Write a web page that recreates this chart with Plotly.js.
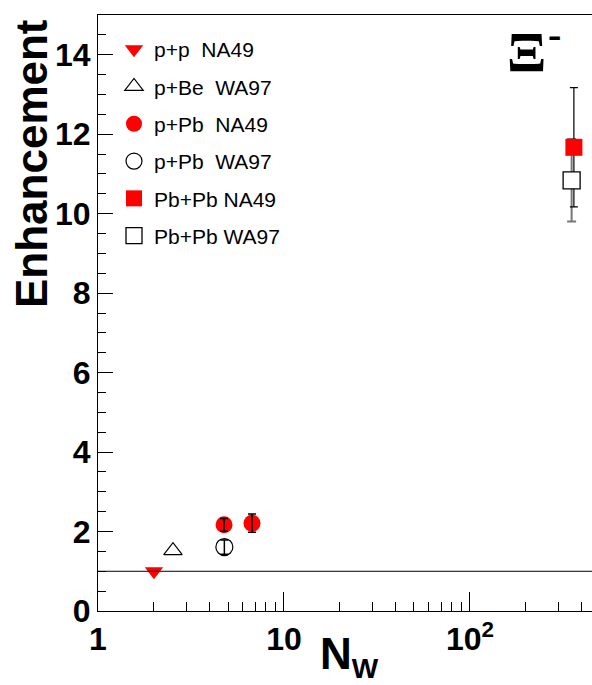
<!DOCTYPE html>
<html>
<head>
<meta charset="utf-8">
<script src="https://cdn.plot.ly/plotly-3.0.1.min.js"></script>
<style>html,body{margin:0;padding:0;background:#fff;overflow:hidden}</style>
</head>
<body>
<div id="plot" style="width:592px;height:685px"></div>
<script>
// Data
var ppNA49_x = [2.0];   var ppNA49_y = [1.0];
var pBeWA97_x = [2.53]; var pBeWA97_y = [1.52];
var pPbNA49_x = [4.76, 6.73]; var pPbNA49_y = [2.17, 2.21]; var pPbNA49_err = [0.16, 0.23];
var pPbWA97_x = [4.78]; var pPbWA97_y = [1.61]; var pPbWA97_err = [0.18];
var PbPbNA49_x = [362]; var PbPbNA49_y = [11.67]; var PbPbNA49_err = [1.5];
var PbPbWA97_x = [352]; var PbPbWA97_y = [10.84]; var PbPbWA97_err = [1.04];

var xMajorVals = [1, 10, 100];
var xMajorText = ['1', '10', '10<sup>2</sup>'];
var xMinorVals = [2,3,4,5,6,7,8,9,20,30,40,50,60,70,80,90,200,300,400];
var refLineY = 1;

var RED = '#ff0000';
var traces = [
  {x: ppNA49_x, y: ppNA49_y, name: 'p+p\u00a0\u00a0NA49', mode: 'markers', legendgroup: 'a',
   marker: {symbol: 'triangle-down', size: 16, color: RED}},
  {x: pBeWA97_x, y: pBeWA97_y, name: 'p+Be\u00a0\u00a0WA97', mode: 'markers', legendgroup: 'b',
   marker: {symbol: 'triangle-up-open', size: 16, color: '#000', line: {width: 1.2}}},
  {x: pPbNA49_x, y: pPbNA49_y, name: 'p+Pb\u00a0\u00a0NA49', mode: 'markers', legendgroup: 'c',
   marker: {symbol: 'circle', size: 17, color: RED}},
  {x: pPbNA49_x, y: pPbNA49_y, mode: 'markers', showlegend: false, hoverinfo: 'skip',
   marker: {size: 1, color: 'rgba(0,0,0,0)'},
   error_y: {type: 'data', array: pPbNA49_err, color: '#000', thickness: 1.5, width: 4}},
  {x: pPbWA97_x, y: pPbWA97_y, name: 'p+Pb\u00a0\u00a0WA97', mode: 'markers', legendgroup: 'd',
   marker: {symbol: 'circle-open', size: 17, color: '#000', line: {width: 1.2}},
   error_y: {type: 'data', array: pPbWA97_err, color: '#000', thickness: 1.5, width: 4}},
  {x: PbPbWA97_x, y: PbPbWA97_y, mode: 'markers', showlegend: false, hoverinfo: 'skip',
   marker: {size: 1, color: 'rgba(0,0,0,0)'},
   error_y: {type: 'data', array: PbPbWA97_err, color: '#777', thickness: 2, width: 4.5}},
  {x: PbPbNA49_x, y: PbPbNA49_y, name: 'Pb+Pb NA49', mode: 'markers', legendgroup: 'e',
   marker: {symbol: 'square', size: 17, color: RED},
   error_y: {type: 'data', array: PbPbNA49_err, color: '#000', thickness: 1.2, width: 4}},
  {x: PbPbWA97_x, y: PbPbWA97_y, name: 'Pb+Pb WA97', mode: 'markers', legendgroup: 'f',
   marker: {symbol: 'square', size: 17, color: '#fff', line: {width: 1.3, color: '#000'}}}
];

var W = 592, H = 685, L = 98, R = 0, T = 15, B = 74;
var pw = W - L - R, ph = H - T - B;
function px(x){ return (x - L) / pw; }
function py(y){ return (H - B - y) / ph; }

var layout = {
  width: W, height: H,
  margin: {l: L, r: R, t: T, b: B},
  paper_bgcolor: '#fff', plot_bgcolor: '#fff',
  showlegend: true,
  font: {family: 'Liberation Sans, Arial, sans-serif', color: '#000'},
  xaxis: {
    type: 'log', range: [0, Math.log10(453)],
    tickmode: 'array', tickvals: xMajorVals, ticktext: xMajorText,
    ticks: 'inside', ticklen: 19, tickwidth: 1, tickcolor: '#000',
    minor: {tickmode: 'array', tickvals: xMinorVals, ticks: 'inside', ticklen: 9, tickwidth: 1, tickcolor: '#000'},
    showline: true, linecolor: '#000', linewidth: 1, mirror: true,
    showgrid: false, zeroline: false,
    tickfont: {size: 32, weight: 'bold', family: 'Liberation Sans, Arial, sans-serif'}
  },
  yaxis: {
    range: [0, 15], dtick: 2, tick0: 0,
    ticks: 'inside', ticklen: 15, tickwidth: 1, tickcolor: '#000',
    minor: {dtick: 0.5, ticks: 'inside', ticklen: 8, tickwidth: 1, tickcolor: '#000'},
    showline: true, linecolor: '#000', linewidth: 1, mirror: false,
    showgrid: false, zeroline: false,
    tickfont: {size: 32, weight: 'bold', family: 'Liberation Sans, Arial, sans-serif'}
  },
  legend: {
    x: px(114), y: py(29), xanchor: 'left', yanchor: 'top',
    bgcolor: 'rgba(0,0,0,0)', borderwidth: 0,
    traceorder: 'grouped', tracegroupgap: 7,
    font: {size: 21, family: 'Liberation Sans, Arial, sans-serif'}
  },
  shapes: [
    {type: 'line', xref: 'paper', x0: 0, x1: 1, yref: 'y', y0: refLineY, y1: refLineY,
     line: {color: '#000', width: 1}}
  ],
  annotations: [
    {text: 'Enhancement', textangle: -90, showarrow: false,
     xref: 'paper', yref: 'paper', x: px(31), y: py(164), xanchor: 'center', yanchor: 'middle',
     font: {size: 44, weight: 'bold', family: 'Liberation Sans, Arial, sans-serif'}},
    {text: 'N<sub><span style="font-size:28px">W</span></sub>', showarrow: false,
     xref: 'paper', yref: 'paper', x: px(349), y: py(627), xanchor: 'center', yanchor: 'top',
     font: {size: 44, weight: 'bold', family: 'Liberation Sans, Arial, sans-serif'}},
    {text: '\u039e', showarrow: false,
     xref: 'paper', yref: 'paper', x: px(526), y: py(52.5), xanchor: 'center', yanchor: 'middle',
     font: {size: 58, weight: 'bold', family: 'Liberation Serif, Times New Roman, serif'}},
    {text: '-', showarrow: false,
     xref: 'paper', yref: 'paper', x: px(554), y: py(34.5), xanchor: 'center', yanchor: 'middle',
     font: {size: 40, weight: 'bold', family: 'Liberation Serif, Times New Roman, serif'}}
  ]
};

Plotly.newPlot('plot', traces, layout, {displayModeBar: false, staticPlot: true});
</script>
</body>
</html>
